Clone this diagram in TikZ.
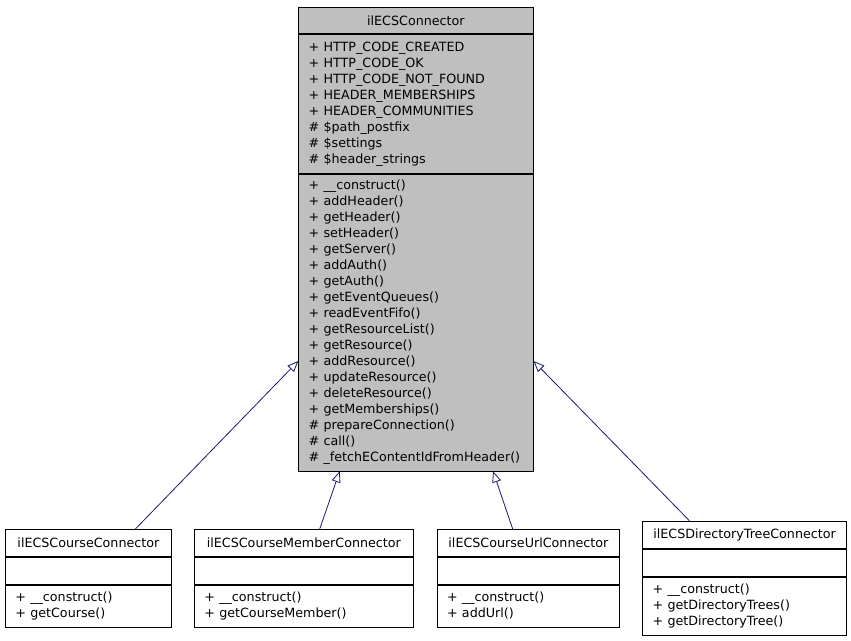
\documentclass[tikz,border=0pt]{standalone}
\usepackage{fontspec}
\setmainfont{DejaVu Sans}
\usetikzlibrary{shapes}
\usetikzlibrary{arrows.meta}
\definecolor{classgray}{HTML}{BFBFBF}
\definecolor{edgeblue}{HTML}{191970}

\begin{document}
\begin{tikzpicture}[x=1pt,y=-1pt,every node/.style={draw,line width=0.8pt,anchor=north west,inner xsep=10pt,inner ysep=0pt,font=\fontsize{12.7}{16}\selectfont},
						title/.style={align=center},
						part/.style={align=left},
						inherit/.style={draw=edgeblue,line width=0.8pt,-{Triangle[open,length=11pt,width=9pt]}}
						]
						\useasboundingbox (0,0) rectangle (851,640);
						% base class
						\node[title,fill=classgray,text width=214.4pt,minimum height=26.6pt](main) at (298.3,6.7) {ilECSConnector};
						\node[part,fill=classgray,text width=214.4pt,minimum height=138.6pt](mainattr) at (main.south west) {+ HTTP\_CODE\_CREATED\\+ HTTP\_CODE\_OK\\+ HTTP\_CODE\_NOT\_FOUND\\+ HEADER\_MEMBERSHIPS\\+ HEADER\_COMMUNITIES\\\# \$path\_postfix\\\# \$settings\\\# \$header\_strings};
						\node[part,fill=classgray,text width=214.4pt,minimum height=297pt](mainops) at (mainattr.south west) {+ \_\_construct()\\+ addHeader()\\+ getHeader()\\+ setHeader()\\+ getServer()\\+ addAuth()\\+ getAuth()\\+ getEventQueues()\\+ readEventFifo()\\+ getResourceList()\\+ getResource()\\+ addResource()\\+ updateResource()\\+ deleteResource()\\+ getMemberships()\\\# prepareConnection()\\\# call()\\\# \_fetchEContentIdFromHeader()};
						% derived classes
						\node[title,fill=white,text width=146pt,minimum height=27pt](cc) at (5,529) {ilECSCourseConnector};
						\node[part,fill=white,text width=146pt,minimum height=27pt](ccattr) at (cc.south west) {};
						\node[part,fill=white,text width=146pt,minimum height=42pt](ccops) at (ccattr.south west) {+ \_\_construct()\\+ getCourse()};
						\node[title,fill=white,text width=199pt,minimum height=27pt](cmc) at (194,529) {ilECSCourseMemberConnector};
						\node[part,fill=white,text width=199pt,minimum height=27pt](cmcattr) at (cmc.south west) {};
						\node[part,fill=white,text width=199pt,minimum height=42pt](cmcops) at (cmcattr.south west) {+ \_\_construct()\\+ getCourseMember()};
						\node[title,fill=white,text width=162.6pt,minimum height=27pt](cuc) at (436.7,529) {ilECSCourseUrlConnector};
						\node[part,fill=white,text width=162.6pt,minimum height=27pt](cucattr) at (cuc.south west) {};
						\node[part,fill=white,text width=162.6pt,minimum height=42pt](cucops) at (cucattr.south west) {+ \_\_construct()\\+ addUrl()};
						\node[title,fill=white,text width=183.7pt,minimum height=27pt](dtc) at (642.3,521) {ilECSDirectoryTreeConnector};
						\node[part,fill=white,text width=183.7pt,minimum height=27pt](dtcattr) at (dtc.south west) {};
						\node[part,fill=white,text width=183.7pt,minimum height=58pt](dtcops) at (dtcattr.south west) {+ \_\_construct()\\+ getDirectoryTrees()\\+ getDirectoryTree()};
						% inheritance
						\draw[inherit] ([xshift=47pt]cc.north) -- ([yshift=-38.6pt]mainops.west);
						\draw[inherit] ([xshift=15.8pt]cmc.north) -- ([xshift=-76.2pt]mainops.south);
						\draw[inherit] ([xshift=-15.7pt]cuc.north) -- ([xshift=77.2pt]mainops.south);
						\draw[inherit] ([xshift=-54.9pt]dtc.north) -- ([yshift=-38.6pt]mainops.east);
						\end{tikzpicture}
\end{document}
